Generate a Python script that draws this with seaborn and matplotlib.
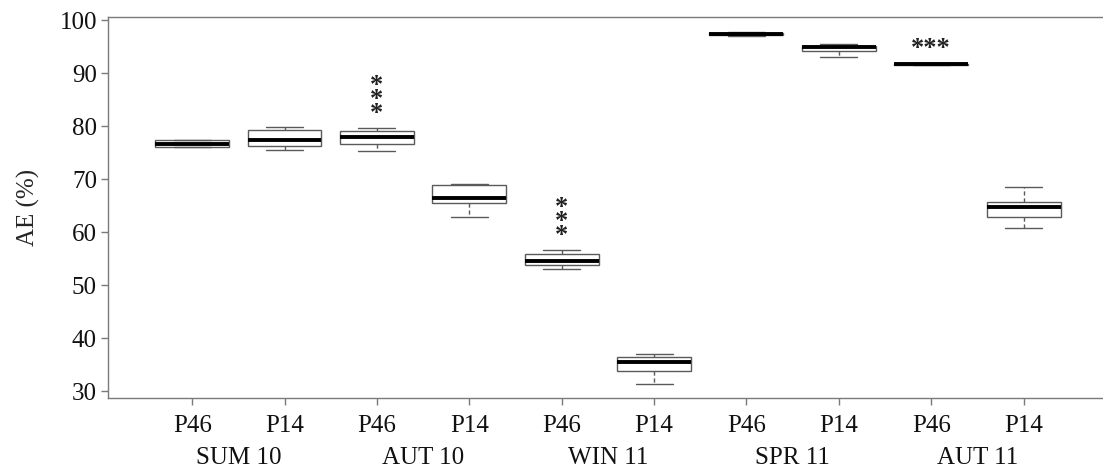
import matplotlib
matplotlib.use("Agg")
import matplotlib.pyplot as plt
import matplotlib.transforms as mtransforms
import seaborn as sns
import numpy as np
import pandas as pd

seasons = ["SUM 10", "AUT 10", "WIN 11", "SPR 11", "AUT 11"]
plots = ["P46", "P14"]

# five-number summaries (low whisker, Q1, median, Q3, high whisker)
whis_low = [76.0, 75.5, 75.3, 62.8, 53.0, 31.3, 96.95, 93.0, 91.55, 60.8]
q1 = [76.0, 76.2, 76.6, 65.5, 53.8, 33.8, 97.25, 94.2, 91.6, 62.8]
median = [76.6, 77.4, 77.9, 66.4, 54.5, 35.5, 97.4, 95.0, 91.7, 64.7]
q3 = [77.4, 79.2, 79.0, 68.8, 55.8, 36.4, 97.55, 95.1, 91.8, 65.6]
whis_high = [77.4, 79.8, 79.6, 69.0, 56.6, 37.0, 97.85, 95.5, 92.0, 68.5]

# groups flagged with *** (index into the ten boxes) and how the stars are laid out
sig_index = [2, 4, 8]
sig_vertical = [True, True, False]

groups = [f"{s} {p}" for s in seasons for p in plots]

# a five-value sample per box reproduces the summary exactly with linear percentiles
rows = []
for i, g in enumerate(groups):
    for v in (whis_low[i], q1[i], median[i], q3[i], whis_high[i]):
        rows.append({"group": g, "AE": v})
df = pd.DataFrame(rows)

sns.set_theme(style="white")
plt.rcParams["font.family"] = ["Liberation Serif", "DejaVu Serif"]

fig = plt.figure(figsize=(11.03, 4.73), dpi=100)
ax = fig.add_axes([0.098, 0.1586, 0.902, 0.8055])

edge = "#5a5a5a"
sns.boxplot(
    data=df, x="group", y="AE", order=groups, ax=ax,
    width=0.8, color="white", linecolor=edge, linewidth=1.0,
    whis=1.5, fliersize=0,
    medianprops=dict(color="black", linewidth=2.8),
    whiskerprops=dict(color=edge, linestyle=(0, (3, 2)), linewidth=1.0),
    capprops=dict(color=edge, linewidth=1.0),
    boxprops=dict(edgecolor=edge, linewidth=1.0),
)

ax.set_xlim(-0.91, 9.86)
ax.set_ylim(28.7, 100.6)
ax.set_yticks(np.arange(30, 101, 10))
ax.set_xticks(range(len(groups)))
ax.set_xticklabels([p for s in seasons for p in plots])
ax.set_xlabel("")
ax.set_ylabel("AE (%)", fontsize=18, labelpad=14)

ax.spines["right"].set_visible(False)
for side in ["left", "bottom", "top"]:
    ax.spines[side].set_color("#7a7a7a")
    ax.spines[side].set_linewidth(1.0)

ax.tick_params(axis="both", which="major", length=5, width=1.0, color="#7a7a7a",
               labelsize=18, labelcolor="#111111", bottom=True, left=True, direction="out")
ax.tick_params(axis="x", pad=7)
ax.tick_params(axis="y", pad=3)

# season labels centred under each pair
trans = mtransforms.blended_transform_factory(ax.transData, ax.transAxes)
for k, s in enumerate(seasons):
    ax.text(2 * k + 0.5, -0.158, s, transform=trans, ha="center", va="center",
            fontsize=18, color="#111111")

# significance stars above the high whisker
for idx, vert in zip(sig_index, sig_vertical):
    if vert:
        ax.annotate("*\n*\n*", xy=(idx, whis_high[idx]), xytext=(0, 2),
                    textcoords="offset points", ha="center", va="bottom",
                    fontsize=19, fontweight="bold", linespacing=0.5, color="#222222")
    else:
        ax.annotate("***", xy=(idx, whis_high[idx]), xytext=(0, 2),
                    textcoords="offset points", ha="center", va="bottom",
                    fontsize=19, fontweight="bold", color="#222222")

fig.savefig("out.png", dpi=100)
